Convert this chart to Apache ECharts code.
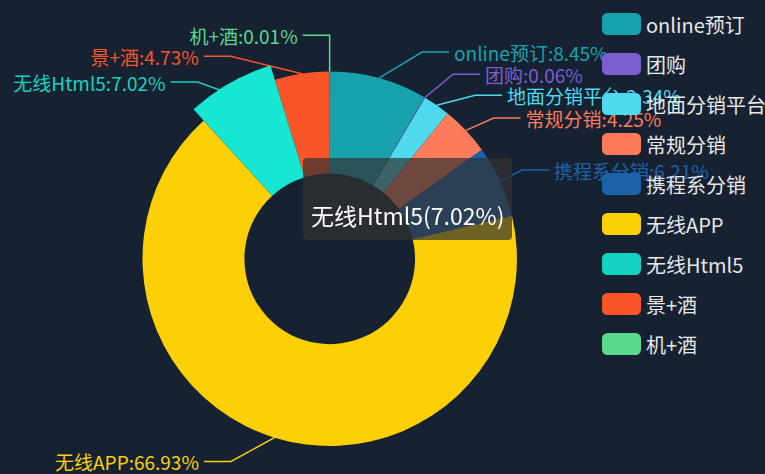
<!DOCTYPE html>
<html>
<head>
<meta charset="utf-8">
<script src="https://cdn.jsdelivr.net/npm/echarts@6/dist/echarts.min.js"></script>
<style>
html,body{margin:0;padding:0;background:#162231;}
#main{width:765px;height:474px;}
</style>
</head>
<body>
<div id="main"></div>
<script>
var categories = ['online预订','团购','地面分销平台','常规分销','携程系分销','无线APP','无线Html5','景+酒','机+酒'];
var values = [8.45, 0.06, 2.34, 4.25, 6.21, 66.93, 7.02, 4.73, 0.01];
var colors = ['#17a2ad','#7b5fd2','#4ed9ee','#fb7b5b','#1b62aa','#fccf06','#14d2bf','#fa5528','#5ad98f'];
var highlighted = 6;

var FONT = '"Noto Sans CJK SC", "Noto Sans", sans-serif';
var CENTER = [43.1, 54.6];      // percent of width / height
var RADIUS = [36, 79];          // percent of half the smaller side
var LEN = 27, LEN2 = 27, LABEL_H = 21, LABEL_DIST = 5;

var chart = echarts.init(document.getElementById('main'), null, {renderer: 'svg'});

// Classic (ECharts 4 style) outside-label layout: labels stacked per side, then placed on a circle
function classicLabelLayout() {
  var w = chart.getWidth(), h = chart.getHeight();
  var cx = CENTER[0] / 100 * w, cy = CENTER[1] / 100 * h;
  var r = RADIUS[1] / 100 * Math.min(w, h) / 2;
  var total = values.reduce(function (a, b) { return a + b; }, 0);
  var acc = 0, items = [];
  values.forEach(function (v, i) {
    var a0 = acc / total * Math.PI * 2; acc += v;
    var a1 = acc / total * Math.PI * 2;
    var mid = (a0 + a1) / 2;
    var dx = Math.sin(mid), dy = -Math.cos(mid);
    var x1 = cx + r * dx, y1 = cy + r * dy;
    var x2 = x1 + dx * LEN, y2 = y1 + dy * LEN;
    var s = dx < 0 ? -1 : 1;
    var x3 = x2 + s * LEN2;
    items.push({idx: i, x: x3 + s * LABEL_DIST, y: y2, p0: [x1, y1], dist: x2 - x3, height: LABEL_H});
  });
  function adjust(list, dir) {
    list.sort(function (a, b) { return a.y - b.y; });
    function shiftDown(start, end, delta) {
      for (var j = start; j < end; j++) {
        list[j].y += delta;
        if (j > start && j + 1 < end && list[j + 1].y > list[j].y + list[j].height) { shiftUp(j, delta / 2); return; }
      }
      shiftUp(end - 1, delta / 2);
    }
    function shiftUp(end, delta) {
      for (var j = end; j >= 0; j--) {
        list[j].y -= delta;
        if (j > 0 && list[j].y > list[j - 1].y + list[j - 1].height) break;
      }
    }
    function changeX(sub, isDown) {
      var last = isDown ? Number.MAX_VALUE : 0;
      for (var i = 0; i < sub.length; i++) {
        var dY = Math.abs(sub[i].y - cy);
        var RR = r + LEN + LEN2;
        var dX = dY < r + LEN ? Math.sqrt(RR * RR - dY * dY) : Math.abs(sub[i].x - cx);
        if (isDown && dX >= last) dX = last - 10;
        if (!isDown && dX <= last) dX = last + 10;
        sub[i].x = cx + dX * dir;
        last = dX;
      }
    }
    var lastY = 0;
    for (var i = 0; i < list.length; i++) {
      var d = list[i].y - lastY;
      if (d < 0) shiftDown(i, list.length, -d);
      lastY = list[i].y + list[i].height;
    }
    var maxY = h - LABEL_H / 2 - 2;
    if (list.length && list[list.length - 1].y > maxY) shiftUp(list.length - 1, list[list.length - 1].y - maxY);
    changeX(list.filter(function (it) { return it.y < cy; }), false);
    changeX(list.filter(function (it) { return it.y >= cy; }), true);
  }
  var left = items.filter(function (it) { return it.x < cx; });
  var right = items.filter(function (it) { return it.x >= cx; });
  adjust(right, 1); adjust(left, -1);
  var map = {};
  items.forEach(function (it) {
    var isLeft = it.x < cx;
    var p2x = isLeft ? it.x + LABEL_DIST : it.x - LABEL_DIST;
    var p1x = p2x + it.dist;
    map[it.idx] = {x: it.x, y: it.y, align: isLeft ? 'right' : 'left',
      points: [it.p0, [p1x, it.y], [p2x, it.y]]};
  });
  return map;
}
var labelPos = classicLabelLayout();

var data = categories.map(function(c, i){
  return {name: c, value: values[i], itemStyle: {color: colors[i]}, label: {color: colors[i]}, labelLine: {lineStyle: {color: colors[i]}}};
});

chart.setOption({
  backgroundColor: '#162231',
  animation: false,
  textStyle: {fontFamily: FONT},
  tooltip: {
    trigger: 'item',
    alwaysShowContent: true,
    transitionDuration: 0,
    position: [303, 158],
    backgroundColor: 'rgba(50,50,50,0.7)',
    borderWidth: 0,
    padding: [8, 8],
    textStyle: {color: '#fff', fontSize: 23, fontFamily: FONT},
    extraCssText: 'box-shadow:none;border-radius:4px;line-height:33px;',
    formatter: function(p){ return '&nbsp;<br/>' + p.name + '(' + p.percent.toFixed(2) + '%)'; }
  },
  legend: {
    orient: 'vertical',
    left: 597,
    top: 8,
    itemWidth: 39,
    itemHeight: 22,
    itemGap: 18,
    icon: 'roundRect',
    textStyle: {color: '#e8e8e8', fontSize: 20, fontFamily: FONT},
    data: categories
  },
  series: [{
    type: 'pie',
    name: '',
    center: [CENTER[0] + '%', CENTER[1] + '%'],
    radius: [RADIUS[0] + '%', RADIUS[1] + '%'],
    startAngle: 90,
    clockwise: true,
    avoidLabelOverlap: true,
    label: {show: true, formatter: '{b}:{d}%', fontSize: 19, fontFamily: FONT},
    labelLine: {show: true, length: LEN, length2: LEN2, lineStyle: {width: 1.5}},
    labelLayout: function (params) {
      var p = labelPos[params.dataIndex];
      if (!p) return {};
      return {x: p.x, y: p.y, align: p.align, verticalAlign: 'middle', labelLinePoints: p.points};
    },
    emphasis: {scale: true, scaleSize: 15, label: {fontWeight: 'normal', fontSize: 19}},
    data: data
  }]
});
chart.dispatchAction({type: 'highlight', seriesIndex: 0, dataIndex: highlighted});
chart.dispatchAction({type: 'showTip', seriesIndex: 0, dataIndex: highlighted});
</script>
</body>
</html>
